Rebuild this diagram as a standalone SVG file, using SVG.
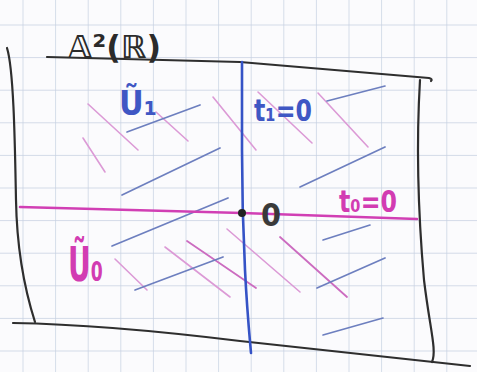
<svg xmlns="http://www.w3.org/2000/svg" width="477" height="372" viewBox="0 0 477 372">
<defs>
<pattern id="grid" x="22.5" y="24.5" width="32.6" height="32.6" patternUnits="userSpaceOnUse">
<path d="M0,0 H32.6 M0,0 V32.6" fill="none" stroke="#c6d0e1" stroke-width="1.4"/>
</pattern>
</defs>
<style>
.frame{fill:none;stroke:#2e2e2e;stroke-width:2.2;stroke-linecap:round;stroke-linejoin:round}
.pink{fill:none;stroke:#dc9ad6;stroke-width:1.6;stroke-linecap:round}
.pinkd{fill:none;stroke:#cc6cc0;stroke-width:1.8;stroke-linecap:round}
.bh{fill:none;stroke:#6d7fbf;stroke-width:1.7;stroke-linecap:round}
.axisb{fill:none;stroke:#3553c6;stroke-width:2.6;stroke-linecap:round}
.axism{fill:none;stroke:#d13fb4;stroke-width:2.6;stroke-linecap:round}
.lbl{font-family:"DejaVu Sans","Liberation Sans",sans-serif;font-weight:bold}
</style>
<rect width="477" height="372" fill="#fbfbfd"/>
<rect width="477" height="372" fill="url(#grid)"/>

<g id="frame">
<path class="frame" d="M47,57 L240,62 L429,78 Q433,79 431,81"/>
<path class="frame" d="M7,48 C14,70 15,150 16,200 C17,260 28,300 35,322"/>
<path class="frame" d="M13,323 C80,324 150,330 240,341 L470,366"/>
<path class="frame" d="M420,80 C417,130 417,200 424,280 C430,330 437,350 432,362"/>
</g>

<g id="hatching">
<line class="pink" x1="88" y1="104" x2="138" y2="150"/>
<line class="pink" x1="83" y1="138" x2="105" y2="172"/>
<line class="pink" x1="156" y1="112" x2="188" y2="141"/>
<line class="pink" x1="213" y1="97" x2="256" y2="150"/>
<line class="pink" x1="258" y1="92" x2="312" y2="143"/>
<line class="pink" x1="318" y1="93" x2="368" y2="147"/>
<line class="pink" x1="115" y1="259" x2="147" y2="290"/>
<line class="pink" x1="165" y1="247" x2="230" y2="297"/>
<line class="pinkd" x1="187" y1="241" x2="256" y2="288"/>
<line class="pink" x1="227" y1="229" x2="300" y2="292"/>
<line class="pinkd" x1="280" y1="237" x2="347" y2="297"/>
<line class="bh" x1="127" y1="132" x2="200" y2="105"/>
<line class="bh" x1="122" y1="195" x2="220" y2="148"/>
<line class="bh" x1="112" y1="246" x2="228" y2="198"/>
<line class="bh" x1="135" y1="290" x2="223" y2="257"/>
<line class="bh" x1="327" y1="101" x2="385" y2="86"/>
<line class="bh" x1="300" y1="187" x2="385" y2="147"/>
<line class="bh" x1="323" y1="240" x2="370" y2="225"/>
<line class="bh" x1="317" y1="288" x2="385" y2="258"/>
<line class="bh" x1="323" y1="335" x2="383" y2="318"/>
</g>

<g id="connectors">
<path id="t1-axis" class="axisb" d="M242,62 L242,150 C242,200 243,230 245,270 C247,310 249,330 251,353"/>
<path id="t0-axis" class="axism" d="M20,207 L242,213 L417,219"/>
</g>

<g id="origin">
<circle cx="242" cy="213" r="4" fill="#222"/>
<text class="lbl" x="261" y="226" font-size="32" fill="#3a3a3a" textLength="20" lengthAdjust="spacingAndGlyphs">0</text>
</g>

<g id="label-plane">
<text class="lbl" x="68" y="58" font-size="32" fill="#2b2b2b" textLength="93" lengthAdjust="spacingAndGlyphs">𝔸²(ℝ)</text>
</g>

<g id="label-U1">
<text class="lbl" x="119" y="115" font-size="34" fill="#3f57c4" textLength="38" lengthAdjust="spacingAndGlyphs">Ũ₁</text>
</g>

<g id="label-U0">
<text class="lbl" x="68" y="281" font-size="48" fill="#d23cb2" textLength="35" lengthAdjust="spacingAndGlyphs">Ũ₀</text>
</g>

<g id="label-t1">
<text class="lbl" x="254" y="121" font-size="30" fill="#3f57c4" textLength="58" lengthAdjust="spacingAndGlyphs">t₁=0</text>
</g>

<g id="label-t0">
<text class="lbl" x="339" y="212" font-size="31" fill="#d23cb2" textLength="58" lengthAdjust="spacingAndGlyphs">t₀=0</text>
</g>
</svg>
